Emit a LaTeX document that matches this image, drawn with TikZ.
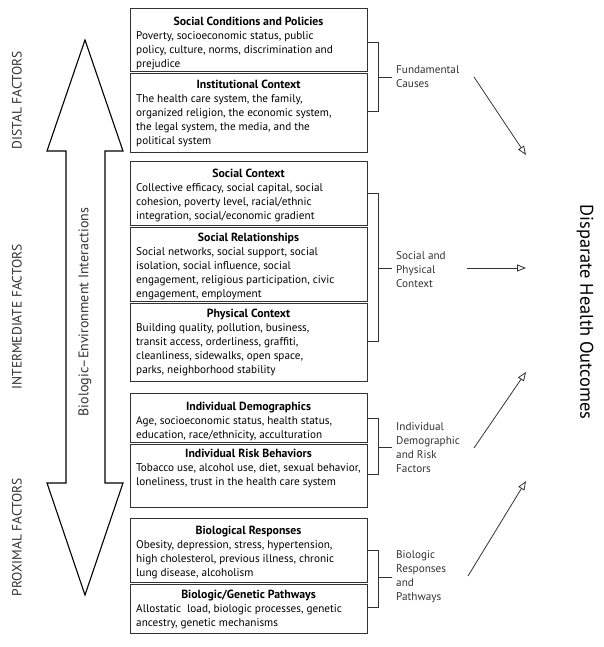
\documentclass[tikz,border=0pt]{standalone}
\usepackage{fontspec}
\setmainfont{PT Sans}
\usetikzlibrary{arrows.meta}
\definecolor{boxgray}{HTML}{333333}
\begin{document}
\begin{tikzpicture}[x=1pt,y=-1pt,
  frame/.style={draw=boxgray,line width=0.9pt,inner sep=0pt,minimum width=237pt,anchor=north west},
  ttl/.style={font=\fontsize{11.8}{14}\selectfont\bfseries,inner sep=0pt,anchor=base},
  body/.style={font=\fontsize{11.2}{14}\selectfont,inner sep=0pt,anchor=base west,align=left},
  side/.style={font=\fontsize{11.2}{14}\selectfont,inner sep=0pt,anchor=base west,align=left,text=boxgray},
  brk/.style={draw=boxgray,line width=0.9pt},
  outarrow/.style={draw=boxgray,line width=0.8pt,-{Triangle[open,length=9pt,width=7pt]}},
  lvl/.style={font=\fontsize{13.5}{14}\selectfont,inner sep=0pt,rotate=90,text=boxgray}
]
\useasboundingbox (0,0) rectangle (604,647);

% ---- boxes
\node[frame,minimum height=63pt] (b1a) at (130,8) {};
\node[frame,minimum height=79pt] (b1b) at (130,73) {};
\node[frame,minimum height=64pt] (b2a) at (130,161) {};
\node[frame,minimum height=74pt] (b2b) at (130,227) {};
\node[frame,minimum height=78pt] (b2c) at (130,303) {};
\node[frame,minimum height=49pt] (b3a) at (130,393) {};
\node[frame,minimum height=63pt] (b3b) at (130,444) {};
\node[frame,minimum height=64pt] (b4a) at (130,518) {};
\node[frame,minimum height=49pt] (b4b) at (130,584) {};

% ---- titles and bodies (body anchor = baseline of last line)
\node[ttl] (t1a) at (248.5,26) {Social Conditions and Policies};
\node[body] (x1a) at (136,68) {Poverty, socioeconomic status, public\\policy, culture, norms, discrimination and\\prejudice};
\node[ttl] (t1b) at (248.5,89) {Institutional Context};
\node[body] (x1b) at (136,145) {The health care system, the family,\\organized religion, the economic system,\\the legal system, the media, and the\\political system};

\node[ttl] (t2a) at (248.5,177) {Social Context};
\node[body] (x2a) at (136,219) {Collective efficacy, social capital, social\\cohesion, poverty level, racial/ethnic\\integration, social/economic gradient};
\node[ttl] (t2b) at (248.5,241) {Social Relationships};
\node[body] (x2b) at (136,297) {Social networks, social support, social\\isolation, social influence, social\\engagement, religious participation, civic\\engagement, employment};
\node[ttl] (t2c) at (248.5,317) {Physical Context};
\node[body] (x2c) at (136,373) {Building quality, pollution, business,\\transit access, orderliness, graffiti,\\cleanliness, sidewalks, open space,\\parks, neighborhood stability};

\node[ttl] (t3a) at (248.5,410) {Individual Demographics};
\node[body] (x3a) at (136,438) {Age, socioeconomic status, health status,\\education, race/ethnicity, acculturation};
\node[ttl] (t3b) at (248.5,457) {Individual Risk Behaviors};
\node[body] (x3b) at (136,485) {Tobacco use, alcohol use, diet, sexual behavior,\\loneliness, trust in the health care system};

\node[ttl] (t4a) at (248.5,534) {Biological Responses};
\node[body] (x4a) at (136,576) {Obesity, depression, stress, hypertension,\\high cholesterol, previous illness, chronic\\lung disease, alcoholism};
\node[ttl] (t4b) at (248.5,598) {Biologic/Genetic Pathways};
\node[body] (x4b) at (136,626) {Allostatic\ \ load, biologic processes, genetic\\ancestry, genetic mechanisms};

% ---- brackets
\draw[brk] (b1a.east |- 0,42) -- (378,42) -- (378,111) -- (b1b.east |- 0,111);
\draw[brk] (378,77) -- (392,77);
\draw[brk] (b2a.east |- 0,193) -- (378,193) -- (378,341) -- (b2c.east |- 0,341);
\draw[brk] (378,268) -- (392,268);
\draw[brk] (b3a.east |- 0,418) -- (378,418) -- (378,474) -- (b3b.east |- 0,474);
\draw[brk] (378,447) -- (392,447);
\draw[brk] (b4a.east |- 0,550) -- (378,550) -- (378,607) -- (b4b.east |- 0,607);
\draw[brk] (378,577) -- (392,577);

% ---- side labels
\node[side] (l1) at (396,88) {Fundamental\\Causes};
\node[side] (l2) at (396,287) {Social and\\Physical\\Context};
\node[side] (l3) at (396,472) {Individual\\Demographic\\and Risk\\Factors};
\node[side] (l4) at (396,600) {Biologic\\Responses\\and\\Pathways};

% ---- outcome
\node[font=\fontsize{18.4}{20}\selectfont,rotate=-90,inner sep=0pt] (out) at (585,312) {Disparate Health Outcomes};
\coordinate (a1s) at (474,77);  \coordinate (a1e) at (526,155);
\coordinate (a2s) at (467,268); \coordinate (a2e) at (526,268);
\coordinate (a3s) at (474,448); \coordinate (a3e) at (526,372);
\coordinate (a4s) at (468,576); \coordinate (a4e) at (526,481);
\draw[outarrow] (a1s) -- (a1e);
\draw[outarrow] (a2s) -- (a2e);
\draw[outarrow] (a3s) -- (a3e);
\draw[outarrow] (a4s) -- (a4e);

% ---- big double arrow
\draw[draw=black,line width=1.1pt,line join=miter] (85,40) -- (123,151) -- (105,151) -- (105,483) -- (123,483) -- (85,595) -- (47,483) -- (66,483) -- (66,151) -- (47,151) -- cycle;
\node[lvl,font=\fontsize{14}{14}\selectfont] (inter) at (85,312) {Biologic--Environment Interactions};

% ---- level labels
\node[lvl] (distal) at (17,100) {DISTAL FACTORS};
\node[lvl] (intermed) at (17,317) {INTERMEDIATE FACTORS};
\node[lvl] (prox) at (17,537) {PROXIMAL FACTORS};
\end{tikzpicture}
\end{document}
